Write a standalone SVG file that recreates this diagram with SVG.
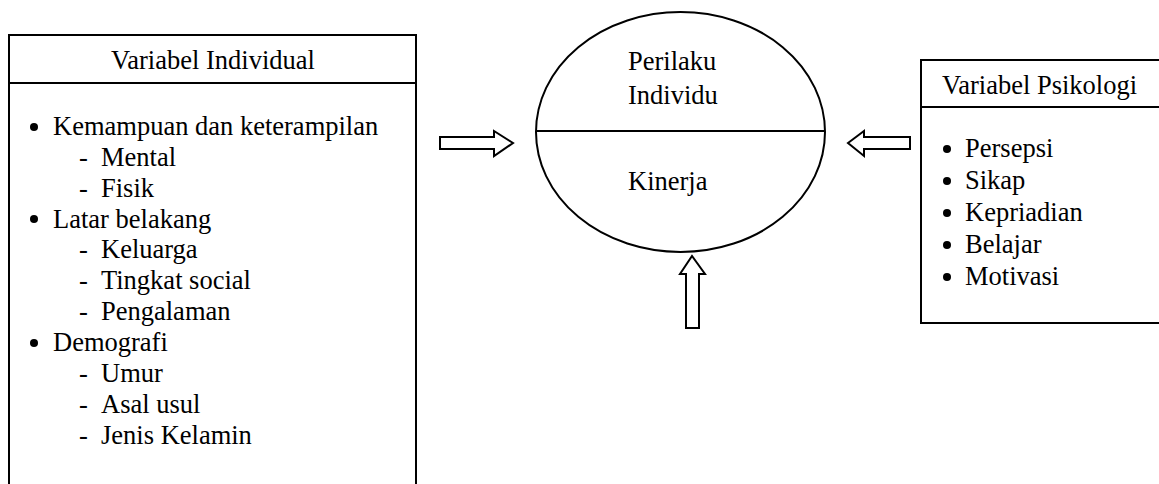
<svg xmlns="http://www.w3.org/2000/svg" width="1159" height="484" viewBox="0 0 1159 484">
<style>
.ln{fill:none;stroke:#000;stroke-width:2}
.ar{fill:#fff;stroke:#000;stroke-width:2;stroke-linejoin:miter}
.t{font-family:'Liberation Serif','Times New Roman',serif;font-size:26.5px;fill:#000}
.b{fill:#000}
</style>
<rect width="1159" height="484" fill="#fff"/>
<g id="variabel-individual">
<path class="ln" d="M9,490 V35 H416 V490"/>
<line class="ln" x1="9" y1="83" x2="416" y2="83"/>
<text class="t" x="213" y="69" text-anchor="middle">Variabel Individual</text>
<circle class="b" cx="34" cy="127" r="4"/>
<text class="t" x="53" y="135">Kemampuan dan keterampilan</text>
<text class="t" x="79" y="166">-</text><text class="t" x="101" y="166">Mental</text>
<text class="t" x="79" y="197">-</text><text class="t" x="101" y="197">Fisik</text>
<circle class="b" cx="34" cy="219" r="4"/>
<text class="t" x="53" y="228">Latar belakang</text>
<text class="t" x="79" y="258">-</text><text class="t" x="101" y="258">Keluarga</text>
<text class="t" x="79" y="289">-</text><text class="t" x="101" y="289">Tingkat social</text>
<text class="t" x="79" y="320">-</text><text class="t" x="101" y="320">Pengalaman</text>
<circle class="b" cx="34" cy="343" r="4"/>
<text class="t" x="53" y="351">Demografi</text>
<text class="t" x="79" y="382">-</text><text class="t" x="101" y="382">Umur</text>
<text class="t" x="79" y="413">-</text><text class="t" x="101" y="413">Asal usul</text>
<text class="t" x="79" y="444">-</text><text class="t" x="101" y="444">Jenis Kelamin</text>
</g>
<g id="perilaku-individu">
<ellipse class="ln" cx="680.5" cy="132" rx="144.5" ry="120"/>
<line class="ln" x1="536" y1="131" x2="825" y2="131"/>
<text class="t" x="628" y="70">Perilaku</text>
<text class="t" x="628" y="104">Individu</text>
<text class="t" x="628" y="190">Kinerja</text>
</g>
<g id="variabel-psikologi">
<path class="ln" d="M1165,60 H921 V323 H1165"/>
<line class="ln" x1="921" y1="107" x2="1165" y2="107"/>
<text class="t" x="942" y="94">Variabel Psikologi</text>
<circle class="b" cx="947" cy="149" r="4"/><text class="t" x="965" y="157">Persepsi</text>
<circle class="b" cx="947" cy="181" r="4"/><text class="t" x="965" y="189">Sikap</text>
<circle class="b" cx="947" cy="213" r="4"/><text class="t" x="965" y="221">Kepriadian</text>
<circle class="b" cx="947" cy="245" r="4"/><text class="t" x="965" y="253">Belajar</text>
<circle class="b" cx="947" cy="277" r="4"/><text class="t" x="965" y="285">Motivasi</text>
</g>
<g id="connectors">
<path class="ar" d="M440,137 H494 V131 L513,143 L494,156 V149 H440 Z"/>
<path class="ar" d="M910,137 H864 V131 L848,143 L864,156 V149 H910 Z"/>
<path class="ar" d="M686,328 V274 H680 L692,256 L705,274 H699 V328 Z"/>
</g>
</svg>
